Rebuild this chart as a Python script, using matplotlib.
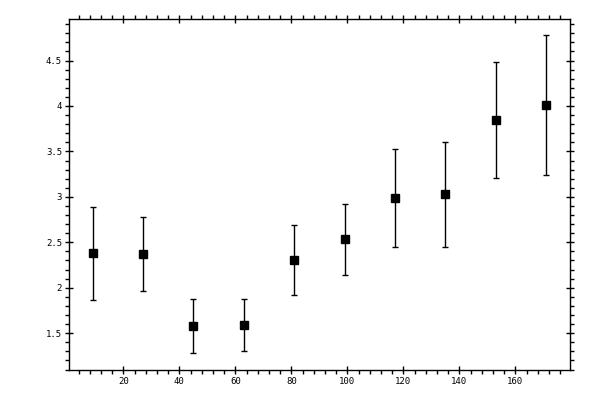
import numpy as np
import matplotlib
matplotlib.use('Agg')
import matplotlib.pyplot as plt
from matplotlib.ticker import MultipleLocator, FormatStrFormatter

# bin centres and measured means with their error half-widths
x_vals = [9, 27, 45, 63, 81, 99, 117, 135, 153, 171]
y_vals = [2.38, 2.37, 1.577, 1.588, 2.303, 2.534, 2.985, 3.027, 3.843, 4.009]
y_err = [0.51, 0.405, 0.30, 0.288, 0.387, 0.39, 0.537, 0.578, 0.636, 0.771]

fig = plt.figure(figsize=(6, 4), dpi=100)
ax = fig.add_axes([0.115, 0.075, 0.835, 0.877])

ax.errorbar(x_vals, y_vals, yerr=y_err, fmt='s', color='black',
            markersize=5.2, elinewidth=1, capsize=2, capthick=1)

ax.set_xlim(0.6, 179.5)
ax.set_ylim(1.095, 4.955)

ax.xaxis.set_major_locator(MultipleLocator(20))
ax.xaxis.set_minor_locator(MultipleLocator(4))
ax.yaxis.set_major_locator(MultipleLocator(0.5))
ax.yaxis.set_minor_locator(MultipleLocator(0.1))
ax.yaxis.set_major_formatter(FormatStrFormatter('%g'))

for s in ax.spines.values():
    s.set_linewidth(1.0)

ax.tick_params(which='major', direction='inout', length=6, width=1.0,
               top=True, right=True, labelsize=6.5, pad=2)
ax.tick_params(which='minor', direction='out', length=3, width=1,
               top=True, right=True)
for lab in ax.get_xticklabels() + ax.get_yticklabels():
    lab.set_family('DejaVu Sans Mono')

fig.savefig('out.png', dpi=100)
